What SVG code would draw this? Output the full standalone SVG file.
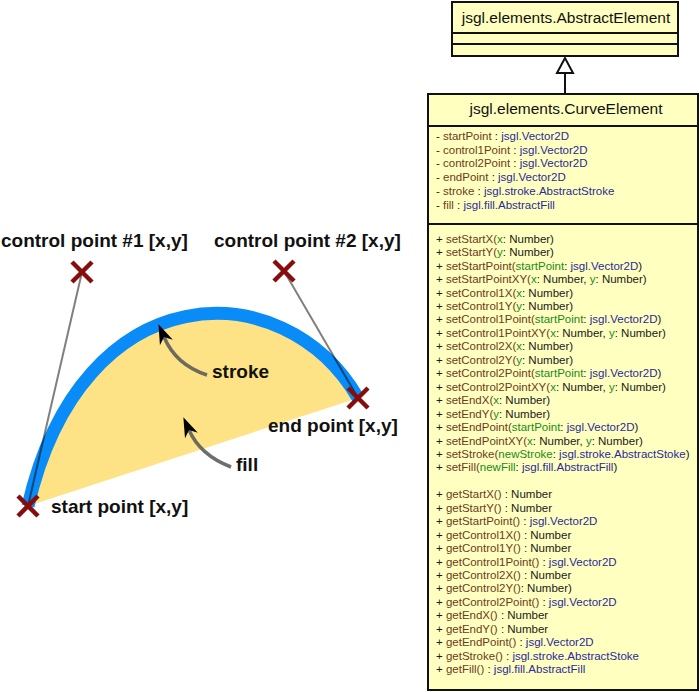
<svg xmlns="http://www.w3.org/2000/svg" width="700" height="692" viewBox="0 0 700 692">
<style>
.lbl{font-family:"Liberation Sans",Arial,sans-serif;font-weight:bold;font-size:19px;fill:#111}
.ttl{font-family:"Liberation Sans",Arial,sans-serif;font-size:15.5px;fill:#111;text-anchor:middle}
.mb{font-family:"Liberation Sans",Arial,sans-serif;font-size:11.5px;fill:#1a1a1a}
.m{fill:#6b3b1b}
.p{fill:#1a8a1a}
.t{fill:#2a2a9a}
.box{fill:#ffffc0;stroke:#111;stroke-width:2}
.div{stroke:#111;stroke-width:2}
.xm{stroke:#880c0c;stroke-width:4.5;stroke-linecap:butt}
.tan{stroke:#000;stroke-opacity:0.5;stroke-width:2;fill:none}
.arr{stroke:#555;stroke-opacity:0.85;stroke-width:3.5;fill:none;marker-end:url(#head)}
</style>
<defs>
<marker id="head" markerUnits="userSpaceOnUse" markerWidth="24" markerHeight="18" viewBox="-2 -9 24 18" refX="6" refY="0" orient="auto">
<path d="M0,-7 L20,0 L0,7 L6,0 Z" fill="#000"/>
</marker>
<symbol id="x" overflow="visible">
<path class="xm" d="M-10,-10 L10,10 M-10,10 L10,-10"/>
</symbol>
</defs>

<g id="curve">
<path d="M28,506 C82,272 284,271 358,398 Z" fill="#fde386"/>
<path d="M28,506 C82,272 284,271 358,398" fill="none" stroke="#0a8cf8" stroke-width="13"/>
</g>

<g id="connectors">
<line class="tan" x1="82" y1="272" x2="28" y2="506"/>
<line class="tan" x1="284" y1="271" x2="358" y2="398"/>
<path class="arr" d="M207,375 Q176,365 164,337"/>
<path class="arr" d="M231,467 Q200,455 189,430"/>
<line class="div" x1="565" y1="73" x2="565" y2="94"/>
<polygon points="565,58 557,73 573,73" fill="#fff" stroke="#111" stroke-width="2"/>
</g>

<g id="cp1">
<use href="#x" x="82" y="272"/>
<text class="lbl" x="1" y="247">control point #1 [x,y]</text>
</g>
<g id="cp2">
<use href="#x" x="284" y="271"/>
<text class="lbl" x="214" y="247">control point #2 [x,y]</text>
</g>
<g id="endpoint">
<use href="#x" x="358" y="398"/>
<text class="lbl" x="268" y="432">end point [x,y]</text>
</g>
<g id="startpoint">
<use href="#x" x="28" y="506"/>
<text class="lbl" x="51" y="513">start point [x,y]</text>
</g>
<g id="stroke-label">
<text class="lbl" x="212" y="378">stroke</text>
</g>
<g id="fill-label">
<text class="lbl" x="236" y="471">fill</text>
</g>

<g id="AbstractElement">
<rect class="box" x="452" y="2" width="226" height="54"/>
<line class="div" x1="452" y1="33" x2="678" y2="33"/>
<line class="div" x1="452" y1="44" x2="678" y2="44"/>
<text class="ttl" x="566" y="23">jsgl.elements.AbstractElement</text>
</g>

<g id="CurveElement">
<rect class="box" x="428" y="94" width="270" height="596"/>
<line class="div" x1="428" y1="126" x2="698" y2="126"/>
<line class="div" x1="428" y1="224" x2="698" y2="224"/>
<text class="ttl" x="566" y="114">jsgl.elements.CurveElement</text>

<text class="mb" x="436" y="140">- <tspan class="m">startPoint</tspan> : <tspan class="t">jsgl.Vector2D</tspan></text>
<text class="mb" x="436" y="153.7">- <tspan class="m">control1Point</tspan> : <tspan class="t">jsgl.Vector2D</tspan></text>
<text class="mb" x="436" y="167.4">- <tspan class="m">control2Point</tspan> : <tspan class="t">jsgl.Vector2D</tspan></text>
<text class="mb" x="436" y="181.1">- <tspan class="m">endPoint</tspan> : <tspan class="t">jsgl.Vector2D</tspan></text>
<text class="mb" x="436" y="194.8">- <tspan class="m">stroke</tspan> : <tspan class="t">jsgl.stroke.AbstractStroke</tspan></text>
<text class="mb" x="436" y="208.5">- <tspan class="m">fill</tspan> : <tspan class="t">jsgl.fill.AbstractFill</tspan></text>

<text class="mb" x="436" y="242.7">+ <tspan class="m">setStartX(</tspan><tspan class="p">x</tspan>: Number)</text>
<text class="mb" x="436" y="256.2">+ <tspan class="m">setStartY(</tspan><tspan class="p">y</tspan>: Number)</text>
<text class="mb" x="436" y="269.6">+ <tspan class="m">setStartPoint(</tspan><tspan class="p">startPoint</tspan>: <tspan class="t">jsgl.Vector2D</tspan>)</text>
<text class="mb" x="436" y="283.1">+ <tspan class="m">setStartPointXY(</tspan><tspan class="p">x</tspan>: Number, <tspan class="p">y</tspan>: Number)</text>
<text class="mb" x="436" y="296.5">+ <tspan class="m">setControl1X(</tspan><tspan class="p">x</tspan>: Number)</text>
<text class="mb" x="436" y="310">+ <tspan class="m">setControl1Y(</tspan><tspan class="p">y</tspan>: Number)</text>
<text class="mb" x="436" y="323.4">+ <tspan class="m">setControl1Point(</tspan><tspan class="p">startPoint</tspan>: <tspan class="t">jsgl.Vector2D</tspan>)</text>
<text class="mb" x="436" y="336.9">+ <tspan class="m">setControl1PointXY(</tspan><tspan class="p">x</tspan>: Number, <tspan class="p">y</tspan>: Number)</text>
<text class="mb" x="436" y="350.3">+ <tspan class="m">setControl2X(</tspan><tspan class="p">x</tspan>: Number)</text>
<text class="mb" x="436" y="363.8">+ <tspan class="m">setControl2Y(</tspan><tspan class="p">y</tspan>: Number)</text>
<text class="mb" x="436" y="377.2">+ <tspan class="m">setControl2Point(</tspan><tspan class="p">startPoint</tspan>: <tspan class="t">jsgl.Vector2D</tspan>)</text>
<text class="mb" x="436" y="390.7">+ <tspan class="m">setControl2PointXY(</tspan><tspan class="p">x</tspan>: Number, <tspan class="p">y</tspan>: Number)</text>
<text class="mb" x="436" y="404.1">+ <tspan class="m">setEndX(</tspan><tspan class="p">x</tspan>: Number)</text>
<text class="mb" x="436" y="417.6">+ <tspan class="m">setEndY(</tspan><tspan class="p">y</tspan>: Number)</text>
<text class="mb" x="436" y="431">+ <tspan class="m">setEndPoint(</tspan><tspan class="p">startPoint</tspan>: <tspan class="t">jsgl.Vector2D</tspan>)</text>
<text class="mb" x="436" y="444.5">+ <tspan class="m">setEndPointXY(</tspan><tspan class="p">x</tspan>: Number, <tspan class="p">y</tspan>: Number)</text>
<text class="mb" x="436" y="457.9">+ <tspan class="m">setStroke(</tspan><tspan class="p">newStroke</tspan>: <tspan class="t">jsgl.stroke.AbstractStoke</tspan>)</text>
<text class="mb" x="436" y="471.4">+ <tspan class="m">setFill(</tspan><tspan class="p">newFill</tspan>: <tspan class="t">jsgl.fill.AbstractFill</tspan>)</text>

<text class="mb" x="436" y="498.3">+ <tspan class="m">getStartX()</tspan> : Number</text>
<text class="mb" x="436" y="511.7">+ <tspan class="m">getStartY()</tspan> : Number</text>
<text class="mb" x="436" y="525.2">+ <tspan class="m">getStartPoint()</tspan> : <tspan class="t">jsgl.Vector2D</tspan></text>
<text class="mb" x="436" y="538.6">+ <tspan class="m">getControl1X()</tspan> : Number</text>
<text class="mb" x="436" y="552.1">+ <tspan class="m">getControl1Y()</tspan> : Number</text>
<text class="mb" x="436" y="565.5">+ <tspan class="m">getControl1Point()</tspan> : <tspan class="t">jsgl.Vector2D</tspan></text>
<text class="mb" x="436" y="579">+ <tspan class="m">getControl2X()</tspan> : Number</text>
<text class="mb" x="436" y="592.4">+ <tspan class="m">getControl2Y()</tspan>: Number)</text>
<text class="mb" x="436" y="605.9">+ <tspan class="m">getControl2Point()</tspan> : <tspan class="t">jsgl.Vector2D</tspan></text>
<text class="mb" x="436" y="619.3">+ <tspan class="m">getEndX()</tspan> : Number</text>
<text class="mb" x="436" y="632.8">+ <tspan class="m">getEndY()</tspan> : Number</text>
<text class="mb" x="436" y="646.2">+ <tspan class="m">getEndPoint()</tspan> : <tspan class="t">jsgl.Vector2D</tspan></text>
<text class="mb" x="436" y="659.7">+ <tspan class="m">getStroke()</tspan> : <tspan class="t">jsgl.stroke.AbstractStoke</tspan></text>
<text class="mb" x="436" y="673.1">+ <tspan class="m">getFill()</tspan> : <tspan class="t">jsgl.fill.AbstractFill</tspan></text>
</g>
</svg>
